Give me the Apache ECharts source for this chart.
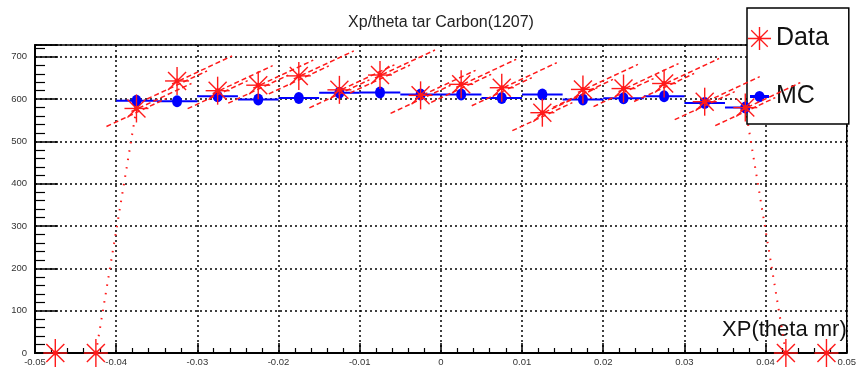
<!DOCTYPE html>
<html>
<head>
<meta charset="utf-8">
<script src="https://cdn.jsdelivr.net/npm/echarts@6/dist/echarts.min.js"></script>
<style>
  html, body { margin: 0; padding: 0; background: #fff; }
  #chart { width: 859px; height: 374px; }
</style>
</head>
<body>
<div id="chart"></div>
<script>
// bin centres (bin width 0.005)
var xCenters = [-0.0475, -0.0425, -0.0375, -0.0325, -0.0275, -0.0225, -0.0175, -0.0125, -0.0075, -0.0025,
  0.0025, 0.0075, 0.0125, 0.0175, 0.0225, 0.0275, 0.0325, 0.0375, 0.0425, 0.0475]
var dataVals = [0, 0, 578, 643, 620, 633, 655, 622, 657, 609, 635, 627, 568, 623, 625, 637, 594, 580, 0, 0]
var mcVals = [null, null, 596, 595, 607, 599, 603, 615, 616, 611, 611, 603, 611, 599, 602, 607, 591, 580, null, null]
var binHalf = 0.0025
var xTicks = [-0.05, -0.04, -0.03, -0.02, -0.01, 0, 0.01, 0.02, 0.03, 0.04, 0.05]
var yTicks = [0, 100, 200, 300, 400, 500, 600, 700]

var RED = '#ff1a1a'
var BLUE = '#0000ff'
var FONT = '"Liberation Sans", Arial, sans-serif'

var dataPoints = xCenters.map(function (x, i) { return [x, dataVals[i]] })
var mcPoints = []
xCenters.forEach(function (x, i) {
  if (mcVals[i] !== null) mcPoints.push([x, mcVals[i]])
})
// dotted fall-off at both ends of the data
var leftEdge = [dataPoints[1], dataPoints[2]]
var rightEdge = [dataPoints[17], dataPoints[18]]

function renderStar (params, api) {
  var c = api.coord([api.value(0), api.value(1)])
  var r = 12
  var d = 9
  var st = { stroke: RED, lineWidth: 1.4 }
  var kids = [
    { type: 'line', shape: { x1: c[0] - r, y1: c[1], x2: c[0] + r, y2: c[1] }, style: st },
    { type: 'line', shape: { x1: c[0], y1: c[1] - r - 2, x2: c[0], y2: c[1] + r + 2 }, style: st },
    { type: 'line', shape: { x1: c[0] - d, y1: c[1] - d, x2: c[0] + d, y2: c[1] + d }, style: st },
    { type: 'line', shape: { x1: c[0] - d, y1: c[1] + d, x2: c[0] + d, y2: c[1] - d }, style: st },
    { type: 'circle', shape: { cx: c[0], cy: c[1], r: 2.5 }, style: { fill: RED } }
  ]
  if (api.value(1) > 0) {
    var ds = { stroke: RED, lineWidth: 1.5, lineDash: [5, 3] }
    kids.push({ type: 'line', shape: { x1: c[0] - 5, y1: c[1] + 3, x2: c[0] + 55, y2: c[1] - 25 }, style: ds })
    kids.push({ type: 'line', shape: { x1: c[0] - 30, y1: c[1] + 18, x2: c[0] + 30, y2: c[1] - 10 }, style: ds })
  }
  return { type: 'group', children: kids }
}

function renderBinBar (params, api) {
  var a = api.coord([api.value(0) - binHalf, api.value(1)])
  var b = api.coord([api.value(0) + binHalf, api.value(1)])
  return {
    type: 'line',
    shape: { x1: a[0], y1: a[1], x2: b[0], y2: b[1] },
    style: { stroke: BLUE, lineWidth: 2 }
  }
}

var chart = echarts.init(document.getElementById('chart'))
var option = {
  backgroundColor: '#fff',
  animation: false,
  graphic: [{
    type: 'text',
    x: 441,
    y: 23,
    style: {
      text: 'Xp/theta tar Carbon(1207)',
      font: '16px ' + FONT,
      fill: '#222',
      align: 'center',
      verticalAlign: 'middle'
    }
  }],
  grid: {
    left: 35,
    right: 12,
    top: 45,
    bottom: 21,
    show: true,
    borderColor: '#000',
    borderWidth: 1.5,
    backgroundColor: 'transparent'
  },
  legend: {
    left: 747,
    top: 8,
    orient: 'vertical',
    selectedMode: false,
    backgroundColor: '#fff',
    borderColor: '#000',
    borderWidth: 1.5,
    padding: [18, 20, 15, 1],
    itemWidth: 23,
    itemHeight: 23,
    itemGap: 33,
    textStyle: { fontSize: 25, color: '#111', fontFamily: FONT },
    data: [
      {
        name: 'Data',
        icon: 'path://M0,47H100V53H0Z M47,0H53V100H47Z M12,16L16,12L88,84L84,88Z M84,12L88,16L16,88L12,84Z M40,50A10,10 0 1 1 60,50A10,10 0 1 1 40,50Z'
      },
      {
        name: 'MC',
        icon: 'path://M2,10L21,10L21,13L2,13Z M6.5,11.5A5,5.5 0 1 1 16.5,11.5A5,5.5 0 1 1 6.5,11.5Z M0,0L0.01,0L0,0.01Z M23,23L22.99,23L23,22.99Z',
        itemStyle: { color: BLUE, opacity: 1 }
      }
    ]
  },
  xAxis: {
    type: 'value',
    min: xTicks[0],
    max: xTicks[xTicks.length - 1],
    interval: 0.01,
    name: 'XP(theta mr)',
    nameLocation: 'end',
    nameGap: 0,
    nameTextStyle: {
      fontSize: 22,
      color: '#111',
      align: 'right',
      verticalAlign: 'bottom',
      padding: [0, 0, 12, 0],
      fontFamily: FONT
    },
    axisLine: { onZero: false, lineStyle: { color: '#000', width: 2 } },
    axisTick: { inside: true, length: 10, lineStyle: { color: '#000', width: 1.5 } },
    minorTick: { show: true, splitNumber: 5, length: 5, lineStyle: { color: '#000', width: 1.2 } },
    splitLine: { show: true, lineStyle: { color: '#000', type: [2, 3], width: 1.5 } },
    axisLabel: {
      fontSize: 9.5,
      color: '#333',
      margin: 4,
      fontFamily: FONT,
      formatter: function (v) { return String(+v.toFixed(3)) }
    }
  },
  yAxis: {
    type: 'value',
    min: 0,
    max: 728,
    interval: 100,
    axisLine: { show: true, onZero: false, lineStyle: { color: '#000', width: 2 } },
    axisTick: { show: true, inside: true, length: 23, lineStyle: { color: '#000', width: 1.5 } },
    minorTick: { show: true, splitNumber: 5, length: 10, lineStyle: { color: '#000', width: 1.2 } },
    splitLine: { show: true, lineStyle: { color: '#000', type: [2, 3], width: 1.5 } },
    axisLabel: {
      fontSize: 9.5,
      color: '#333',
      margin: 8,
      fontFamily: FONT,
      formatter: function (v) { return yTicks.indexOf(v) >= 0 ? String(v) : '' }
    }
  },
  series: [
    {
      type: 'line',
      data: leftEdge,
      symbol: 'none',
      silent: true,
      lineStyle: { color: RED, type: [1.5, 7], width: 2 }
    },
    {
      type: 'line',
      data: rightEdge,
      symbol: 'none',
      silent: true,
      lineStyle: { color: RED, type: [1.5, 7], width: 2 }
    },
    {
      type: 'custom',
      renderItem: renderBinBar,
      data: mcPoints,
      encode: { x: 0, y: 1 },
      z: 3
    },
    {
      name: 'MC',
      type: 'scatter',
      data: mcPoints,
      symbol: 'circle',
      symbolSize: [10, 12],
      itemStyle: { color: BLUE, opacity: 1 },
      z: 4
    },
    {
      name: 'Data',
      type: 'custom',
      renderItem: renderStar,
      data: dataPoints,
      encode: { x: 0, y: 1 },
      itemStyle: { color: RED },
      z: 5
    }
  ]
}
chart.setOption(option)
window.addEventListener('resize', function () { chart.resize() })
</script>
</body>
</html>
